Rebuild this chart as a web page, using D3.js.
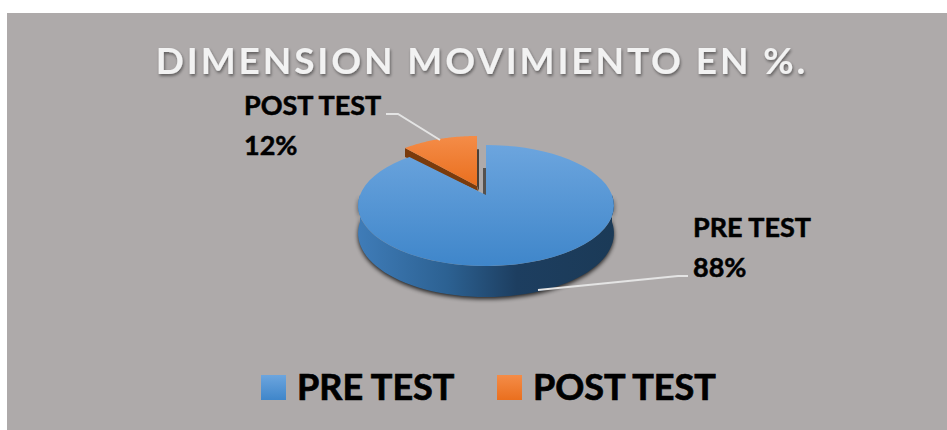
<!DOCTYPE html>
<html>
<head>
<meta charset="utf-8">
<script src="https://cdn.jsdelivr.net/npm/d3@7"></script>
<style>
body { margin: 0; background: #fff; }
text { font-family: Lato, "Open Sans", sans-serif; font-weight: 700; }
</style>
</head>
<body>
<div id="chart"></div>
<script>
const categories = ["PRE TEST", "POST TEST"];
const values = [88, 12];
const title = "DIMENSION MOVIMIENTO EN %.";

const width = 947, height = 430;

// apex of the pie and perspective of the disc
const cx = 486, cy = 195, rX = 126, rY = 58.7, k = 0.1736;
const burst = [-9, -9];
const postNarrow = 0.94;

function project(a, r = 1) {
    const w = 1 + k * r * Math.cos(a);
    return [cx + rX * r * Math.sin(a) / w, cy - rY * r * Math.cos(a) / w];
}
// the rim drops further at the front than at the sides
function lower(p, a) {
    return [p[0], p[1] + 27 - 4 * Math.cos(a)];
}

const svg = d3.select("#chart").append("svg")
    .attr("width", width)
    .attr("height", height)
    .style("display", "block");

const defs = svg.append("defs");

function gradient(id, x2, y2, stops) {
    const g = defs.append("linearGradient").attr("id", id)
        .attr("x1", 0).attr("y1", 0).attr("x2", x2).attr("y2", y2);
    stops.forEach(s => g.append("stop").attr("offset", s[0]).attr("stop-color", s[1]));
}
gradient("blueTop", 0, 1, [[0, "#6ca5de"], [1, "#3f86ca"]]);
gradient("orangeTop", 0, 1, [[0, "#f48c48"], [1, "#ea6f1e"]]);
gradient("blueSide", 1, 0, [[0, "#3f7cb8"], [0.35, "#2c6192"], [0.62, "#1d3e60"], [1, "#1b3a57"]]);
defs.append("filter").attr("id", "blur").attr("x", "-10%").attr("y", "-10%").attr("width", "120%").attr("height", "130%")
    .append("feGaussianBlur").attr("stdDeviation", 2);
const titleShadow = defs.append("filter").attr("id", "titleShadow");
titleShadow.append("feDropShadow").attr("dx", 1).attr("dy", 2).attr("stdDeviation", 1.5)
    .attr("flood-color", "#000").attr("flood-opacity", 0.45);

svg.append("rect").attr("x", 7).attr("y", 13)
    .attr("width", width - 7).attr("height", height - 13).attr("fill", "#aeaaaa");

svg.append("text").attr("x", 482).attr("y", 74)
    .attr("text-anchor", "middle")
    .attr("font-size", 37).attr("letter-spacing", 2.9)
    .attr("fill", "#f2f2f2").attr("filter", "url(#titleShadow)")
    .text(title);

const pie = d3.pie().sort(null).value(d => d);
const arcs = pie(values);
const pre = arcs[0], post = arcs[1];

const line = d3.line();
const steps = (a0, a1) => d3.range(0, 61).map(i => a0 + (a1 - a0) * i / 60);

// side of the big slice, front half of the disc only
const front = steps(Math.PI / 2, 3 * Math.PI / 2);
const sidePts = front.map(a => project(a))
    .concat(front.slice().reverse().map(a => lower(project(a), a)));

svg.append("path").attr("d", line(sidePts) + "Z")
    .attr("fill", "#000").attr("opacity", 0.8)
    .attr("transform", "translate(0,2)").attr("filter", "url(#blur)");
svg.append("path").attr("d", line(sidePts) + "Z").attr("fill", "url(#blueSide)");

// inner wall of the slot
const wallTop = project(0, 0.5);
svg.append("path")
    .attr("d", line([wallTop, [cx, cy], [cx - 3, cy], [cx - 3, wallTop[1]]]) + "Z")
    .attr("fill", "#55514e");

// post test slice, pulled out of the pie
const postG = svg.append("g").attr("transform", `translate(${burst})`);
const narrow = p => [cx + (p[0] - cx) * postNarrow, p[1]];
const postRim = steps(post.startAngle, post.endAngle).map(a => narrow(project(a)));
const postFace = [[cx, cy]].concat(postRim);
const postOuter = postRim[0];

postG.append("path")
    .attr("d", line([[cx, cy], [cx + 2, cy + 5], [cx + 2, project(0, 0.7)[1]], [cx, project(0, 0.7)[1]]]) + "Z")
    .attr("fill", "#4a4038");
postG.append("path")
    .attr("d", line([postOuter, [cx, cy], [cx + 1, cy + 5], [postOuter[0], postOuter[1] + 9]]) + "Z")
    .attr("fill", "#7a3b0c");
postG.append("path").attr("d", line(postFace) + "Z").attr("fill", "url(#orangeTop)");

// top of the big slice
const preRim = steps(pre.startAngle, pre.endAngle).map(a => project(a));
svg.append("path").attr("d", line([[cx, cy]].concat(preRim)) + "Z").attr("fill", "url(#blueTop)");

// leader lines
svg.append("path").attr("d", line([[386, 114], [398, 114], [440, 140]]))
    .attr("fill", "none").attr("stroke", "#e4e4e4").attr("stroke-width", 2);
svg.append("path").attr("d", line([[538, 290], [678, 276], [688, 276]]))
    .attr("fill", "none").attr("stroke", "#e4e4e4").attr("stroke-width", 2);

// data labels
const labelPos = [[693, 237], [244, 115]];
categories.forEach((c, i) => {
    const t = svg.append("text").attr("font-size", 27).attr("fill", "#000")
        .attr("stroke", "#000").attr("stroke-width", 0.5);
    t.append("tspan").attr("x", labelPos[i][0]).attr("y", labelPos[i][1]).text(c);
    t.append("tspan").attr("x", labelPos[i][0]).attr("y", labelPos[i][1] + 40).text(values[i] + "%");
});

// legend
const legendX = [261, 497];
const swatch = ["url(#blueTop)", "url(#orangeTop)"];
const legend = svg.selectAll("g.legend").data(categories).join("g").attr("class", "legend");
legend.append("rect")
    .attr("x", (d, i) => legendX[i]).attr("y", 375)
    .attr("width", 25).attr("height", 25)
    .attr("fill", (d, i) => swatch[i]);
legend.append("text")
    .attr("x", (d, i) => legendX[i] + 36).attr("y", 400)
    .attr("font-size", 36).attr("fill", "#000")
    .attr("stroke", "#000").attr("stroke-width", 0.7)
    .text(d => d);
</script>
</body>
</html>
